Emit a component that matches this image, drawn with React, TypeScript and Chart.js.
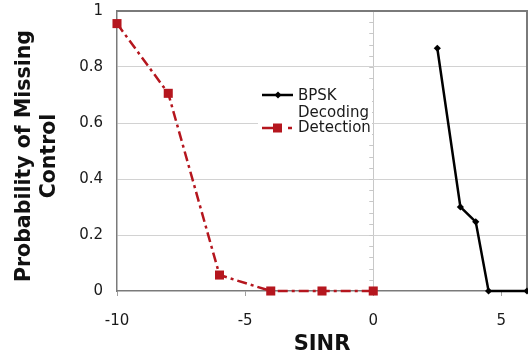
import React, { useEffect, useRef } from "react";
import { Chart, registerables } from "chart.js";

Chart.register(...registerables);

const bpskX = [2.5, 3.4, 4.0, 4.5, 6];
const bpskY = [0.867, 0.3, 0.247, 0, 0];
const decX = [-10, -8, -6, -4, -2, 0];
const decY = [0.955, 0.706, 0.057, 0, 0, 0];
const xTicks = [-10, -5, 0, 5];
const yTicks = [0, 0.2, 0.4, 0.6, 0.8, 1];
const seriesNames = ["BPSK", ["Decoding", "Detection"]];
const yTitle = ["Probability of Missing", "Control"];
const xTitle = "SINR";

const RED = "#b5161e";
const DASH = [10, 4, 3, 4];
const FONT = "'DejaVu Sans', Verdana, sans-serif";

const framePlugin = {
  id: "frame",
  beforeDatasetsDraw(chart: any) {
    const { ctx, chartArea } = chart;
    const xs = chart.scales.x;
    const ys = chart.scales.y;
    ctx.save();
    const x0 = xs.getPixelForValue(0);
    ctx.strokeStyle = "#c8c8c8";
    ctx.lineWidth = 1;
    for (let i = 1; i < 25; i++) {
      const v = i * 0.04;
      const y = Math.round(ys.getPixelForValue(v)) + 0.5;
      ctx.beginPath();
      ctx.moveTo(x0 - 4, y);
      ctx.lineTo(x0, y);
      ctx.stroke();
    }
    ctx.strokeStyle = "#7a7a7a";
    ctx.lineWidth = 2;
    ctx.beginPath();
    ctx.moveTo(chartArea.left, chartArea.top);
    ctx.lineTo(chartArea.right, chartArea.top);
    ctx.lineTo(chartArea.right, chartArea.bottom);
    ctx.stroke();
    ctx.restore();
  },
  afterDatasetsDraw(chart: any) {
    const { ctx, chartArea } = chart;
    ctx.save();
    // y axis title
    ctx.fillStyle = "#111111";
    ctx.font = "bold 20.5px " + FONT;
    ctx.textAlign = "center";
    ctx.textBaseline = "middle";
    ctx.translate(25, (chartArea.top + chartArea.bottom) / 2 + 5);
    ctx.rotate(-Math.PI / 2);
    yTitle.forEach((t, i) => ctx.fillText(t, 0, i * 25));
    ctx.restore();

    ctx.save();
    ctx.fillStyle = "#ffffff";
    ctx.fillRect(258, 84, 114, 54);
    ctx.strokeStyle = "#000000";
    ctx.lineWidth = 2.5;
    ctx.beginPath();
    ctx.moveTo(262, 95);
    ctx.lineTo(293, 95);
    ctx.stroke();
    ctx.fillStyle = "#000000";
    ctx.beginPath();
    ctx.moveTo(278, 91.5);
    ctx.lineTo(281.5, 95);
    ctx.lineTo(278, 98.5);
    ctx.lineTo(274.5, 95);
    ctx.closePath();
    ctx.fill();
    ctx.strokeStyle = RED;
    ctx.beginPath();
    ctx.moveTo(262, 128);
    ctx.lineTo(282, 128);
    ctx.moveTo(288, 128);
    ctx.lineTo(292, 128);
    ctx.stroke();
    ctx.fillStyle = RED;
    ctx.fillRect(273, 123.5, 9, 9);
    ctx.fillStyle = "#1a1a1a";
    ctx.font = "15px " + FONT;
    ctx.textBaseline = "middle";
    ctx.textAlign = "left";
    ctx.fillText(seriesNames[0] as string, 298, 96);
    const lines = seriesNames[1] as string[];
    ctx.fillText(lines[0], 298, 113);
    ctx.fillText(lines[1], 298, 128);
    ctx.restore();
  },
};

export default function App() {
  const ref = useRef<HTMLCanvasElement>(null);
  useEffect(() => {
    document.body.style.margin = "0";
    const chart = new Chart(ref.current!, {
      type: "line",
      data: {
        datasets: [
          {
            label: "BPSK",
            data: bpskX.map((x, i) => ({ x, y: bpskY[i] })),
            borderColor: "#000000",
            backgroundColor: "#000000",
            borderWidth: 2.5,
            pointStyle: "rectRot",
            pointRadius: 3.6,
            pointBorderWidth: 0,
            fill: false,
            tension: 0,
          },
          {
            label: "Decoding Detection",
            data: decX.map((x, i) => ({ x, y: decY[i] })),
            borderColor: RED,
            backgroundColor: RED,
            borderWidth: 2.5,
            borderDash: DASH,
            pointStyle: "rect",
            pointRadius: 6.4,
            pointBorderWidth: 0,
            fill: false,
            tension: 0,
          },
        ],
      },
      options: {
        animation: false,
        responsive: false,
        clip: false as any,
        layout: { autoPadding: false, padding: { top: 11, right: 1, left: 0, bottom: 0 } },
        plugins: { legend: { display: false }, tooltip: { enabled: false } },
        scales: {
          x: {
            type: "linear",
            min: -10,
            max: 6,
            afterBuildTicks: (s: any) => {
              s.ticks = xTicks.map((v) => ({ value: v }));
            },
            afterFit: (s: any) => {
              s.height = 65;
              s.paddingLeft = 0;
              s.paddingRight = 0;
            },
            grid: {
              color: (c: any) => (c.tick && c.tick.value === 0 ? "#c8c8c8" : "rgba(0,0,0,0)"),
              tickColor: "#a0a0a0",
              tickLength: 5,
              lineWidth: 1,
            },
            border: { color: "#7a7a7a", width: 1.5 },
            ticks: {
              color: "#1a1a1a",
              font: { family: FONT, size: 15 },
              padding: 16,
              maxRotation: 0,
              callback: (v: any) => String(v),
            },
            title: {
              display: true,
              text: xTitle,
              color: "#111111",
              font: { family: FONT, size: 21, weight: "bold", lineHeight: 1.1 },
              padding: { top: 0, bottom: 0 },
            },
          },
          y: {
            type: "linear",
            min: 0,
            max: 1,
            afterBuildTicks: (s: any) => {
              s.ticks = yTicks.map((v) => ({ value: v }));
            },
            afterFit: (s: any) => {
              s.width = 117;
              s.paddingTop = 0;
              s.paddingBottom = 0;
            },
            grid: {
              color: (c: any) =>
                c.tick && (c.tick.value === 0 || c.tick.value === 1) ? "rgba(0,0,0,0)" : "#d2d2d2",
              drawTicks: false,
              lineWidth: 1,
            },
            border: { color: "#7a7a7a", width: 1.5 },
            ticks: {
              color: "#1a1a1a",
              font: { family: FONT, size: 15 },
              padding: 14,
              callback: (v: any) => String(v),
            },
            title: { display: false },
          },
        },
      },
      plugins: [framePlugin],
    });
    return () => chart.destroy();
  }, []);
  return (
    <div style={{ width: 528, height: 356 }}>
      <canvas ref={ref} width={528} height={356} />
    </div>
  );
}
